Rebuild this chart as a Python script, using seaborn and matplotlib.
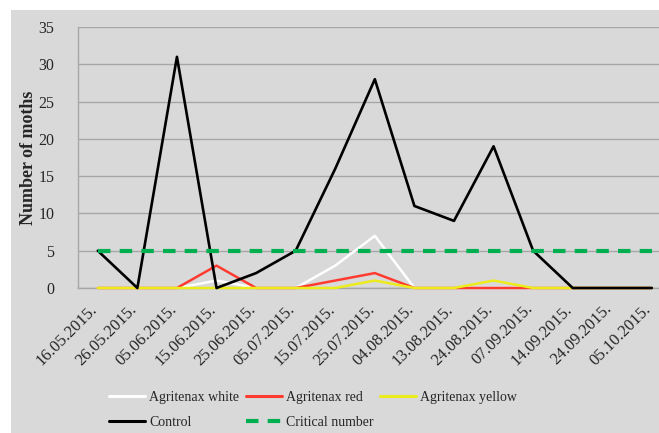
import numpy as np
import pandas as pd
import matplotlib
matplotlib.use("Agg")
import matplotlib.pyplot as plt
import seaborn as sns
from matplotlib.patches import Rectangle
from matplotlib.lines import Line2D

dates = ["16.05.2015.", "26.05.2015.", "05.06.2015.", "15.06.2015.", "25.06.2015.",
         "05.07.2015.", "15.07.2015.", "25.07.2015.", "04.08.2015.", "13.08.2015.",
         "24.08.2015.", "07.09.2015.", "14.09.2015.", "24.09.2015.", "05.10.2015."]
agritenax_white = [0, 0, 0, 1, 0, 0, 3, 7, 0, 0, 0, 0, 0, 0, 0]
agritenax_red = [0, 0, 0, 3, 0, 0, 1, 2, 0, 0, 0, 0, 0, 0, 0]
agritenax_yellow = [0, 0, 0, 0, 0, 0, 0, 1, 0, 0, 1, 0, 0, 0, 0]
control = [5, 0, 31, 0, 2, 5, 16, 28, 11, 9, 19, 5, 0, 0, 0]
critical_number = [5] * 15

sns.set_theme(style="white")
plt.rcParams['font.family'] = ['Liberation Serif', 'DejaVu Serif']

BG = "#d9d9d9"
WHITE_C, RED_C, YEL_C, CTRL_C, CRIT_C = "white", "#ff3b30", "#ecec1c", "black", "#00b050"

fig = plt.figure(figsize=(6.59, 4.33), dpi=100)
fig.patch.set_facecolor("white")
fig.add_artist(Rectangle((11 / 659, 0), 1 - 11 / 659, 1 - 10 / 433, transform=fig.transFigure,
                         facecolor=BG, edgecolor="none", zorder=-10))

ax = fig.add_axes([78 / 659, 1 - 288 / 433, (659 - 78) / 659, (288 - 27) / 433])
ax.set_facecolor(BG)

x = np.arange(len(dates))
df = pd.DataFrame({"x": x, "white": agritenax_white, "red": agritenax_red,
                   "yellow": agritenax_yellow, "control": control,
                   "critical": critical_number})

kw = dict(ax=ax, sort=False, clip_on=False)
sns.lineplot(data=df, x="x", y="white", color=WHITE_C, lw=1.8, zorder=3, **kw)
sns.lineplot(data=df, x="x", y="red", color=RED_C, lw=1.8, zorder=4, **kw)
sns.lineplot(data=df, x="x", y="yellow", color=YEL_C, lw=1.8, zorder=5, **kw)
sns.lineplot(data=df, x="x", y="control", color=CTRL_C, lw=1.9, zorder=6, **kw)
sns.lineplot(data=df, x="x", y="critical", color=CRIT_C, lw=3, zorder=7,
             linestyle=(0, (3, 2.2)), **kw)

ax.set_xlim(-0.5, 14.18)
ax.set_ylim(0, 35)
ax.set_yticks(range(0, 36, 5))
ax.tick_params(axis="y", labelsize=11.5, pad=17, length=0)
ax.tick_params(axis="x", pad=15.5, length=0)
ax.set_xticks(x)
ax.set_xticklabels(dates, rotation=45, ha="right", va="baseline", rotation_mode="anchor",
                   fontsize=12)
ax.yaxis.grid(True, color="#a6a6a6", lw=1)
ax.set_axisbelow(True)
for s in ["top", "right"]:
    ax.spines[s].set_visible(False)
for s in ["left", "bottom"]:
    ax.spines[s].set_color("#a6a6a6")
    ax.spines[s].set_linewidth(1)
    ax.spines[s].set_zorder(0.5)
ax.set_xlabel("")
ax.set_ylabel("Number of moths", fontsize=13, fontweight="bold", labelpad=1)

handles = [
    Line2D([], [], color=WHITE_C, lw=2.2),
    Line2D([], [], color=CTRL_C, lw=2.2),
    Line2D([], [], color=RED_C, lw=2.2),
    Line2D([], [], color=CRIT_C, lw=3, linestyle=(0, (3, 2.2))),
    Line2D([], [], color=YEL_C, lw=2.2),
]
labels = ["Agritenax white", "Control", "Agritenax red", "Critical number", "Agritenax yellow"]
fig.legend(handles, labels, ncol=3, loc="center left", bbox_to_anchor=(109 / 659, 1 - 410 / 433),
           frameon=False, fontsize=10, handlelength=2.6, handletextpad=0.3,
           columnspacing=0.45, labelspacing=0.9, borderaxespad=0, borderpad=0)

fig.savefig("out.png", dpi=100, facecolor=fig.get_facecolor())
